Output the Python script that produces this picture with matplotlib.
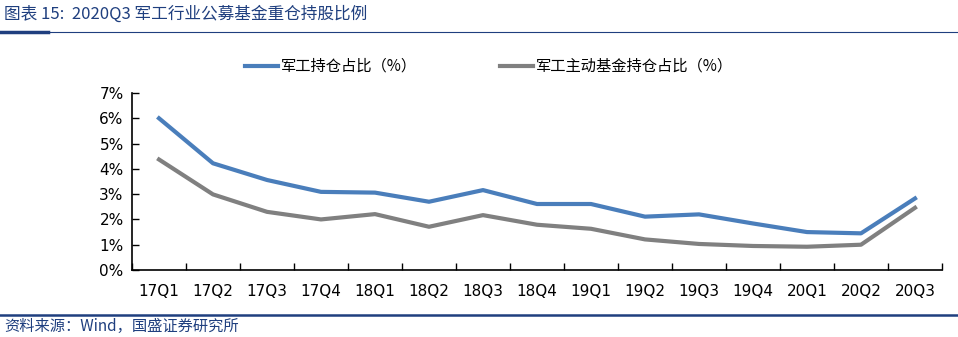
import matplotlib.pyplot as plt
from matplotlib.lines import Line2D

plt.rcParams['font.family'] = ['Noto Sans CJK SC', 'DejaVu Sans']

quarters = ["17Q1", "17Q2", "17Q3", "17Q4", "18Q1", "18Q2", "18Q3", "18Q4",
            "19Q1", "19Q2", "19Q3", "19Q4", "20Q1", "20Q2", "20Q3"]
mil_share = [6.00, 4.22, 3.56, 3.09, 3.06, 2.70, 3.16, 2.61,
             2.61, 2.11, 2.20, 1.84, 1.50, 1.45, 2.83]
active_share = [4.37, 2.99, 2.30, 2.00, 2.21, 1.71, 2.17, 1.79,
                1.63, 1.21, 1.03, 0.95, 0.92, 1.00, 2.46]

BLUE = "#4A7EBB"
GRAY = "#808080"
NAVY = "#1F3F7F"

fig = plt.figure(figsize=(9.58, 3.37), dpi=100, facecolor="white")
ax = fig.add_axes([132 / 958, 1 - 270 / 337, 810 / 958, 177 / 337])

x = [i + 0.5 for i in range(len(quarters))]
ax.plot(x, mil_share, color=BLUE, lw=3, label="军工持仓占比（%）", solid_joinstyle="round")
ax.plot(x, active_share, color=GRAY, lw=3, label="军工主动基金持仓占比（%）", solid_joinstyle="round")

ax.set_xlim(0, len(quarters))
ax.set_ylim(0, 7)
ax.set_yticks(range(0, 8))
ax.set_yticklabels([f"{v}%" for v in range(0, 8)], fontsize=11, family="DejaVu Sans")
ax.set_xticks(range(0, len(quarters) + 1))
ax.set_xticklabels([])
ax.set_xticks(x, minor=True)
ax.set_xticklabels(quarters, minor=True, fontsize=11, family="DejaVu Sans")
ax.tick_params(axis="x", which="major", direction="in", length=5, width=1)
ax.tick_params(axis="x", which="minor", length=0, pad=10)
ax.tick_params(axis="y", direction="in", length=5, width=1, pad=6)
for s in ("top", "right"):
    ax.spines[s].set_visible(False)
for s in ("left", "bottom"):
    ax.spines[s].set_linewidth(1.2)

# legend drawn manually in figure coords
for xs, label, color in [(245, "军工持仓占比（%）", BLUE), (500, "军工主动基金持仓占比（%）", GRAY)]:
    fig.add_artist(Line2D([xs / 958, (xs + 33) / 958], [1 - 66 / 337] * 2, color=color, lw=3))
    fig.text((xs + 36) / 958, 1 - 66 / 337, label, fontsize=11, va="center", ha="left")

# title and separators
fig.text(4 / 958, 1 - 14 / 337, "图表 15:  2020Q3 军工行业公募基金重仓持股比例",
         fontsize=12, color=NAVY, style="italic", va="center", ha="left")
fig.add_artist(Line2D([0, 1], [1 - 32 / 337] * 2, color=NAVY, lw=0.8))
fig.add_artist(Line2D([0, 48 / 958], [1 - 32 / 337] * 2, color=NAVY, lw=2.5))
fig.add_artist(Line2D([0, 1], [1 - 315 / 337] * 2, color=NAVY, lw=1.8))
fig.text(4 / 958, 1 - 326 / 337, "资料来源：Wind，国盛证券研究所",
         fontsize=11, color=NAVY, style="italic", va="center", ha="left")

fig.savefig("out.png", dpi=100, facecolor="white")
